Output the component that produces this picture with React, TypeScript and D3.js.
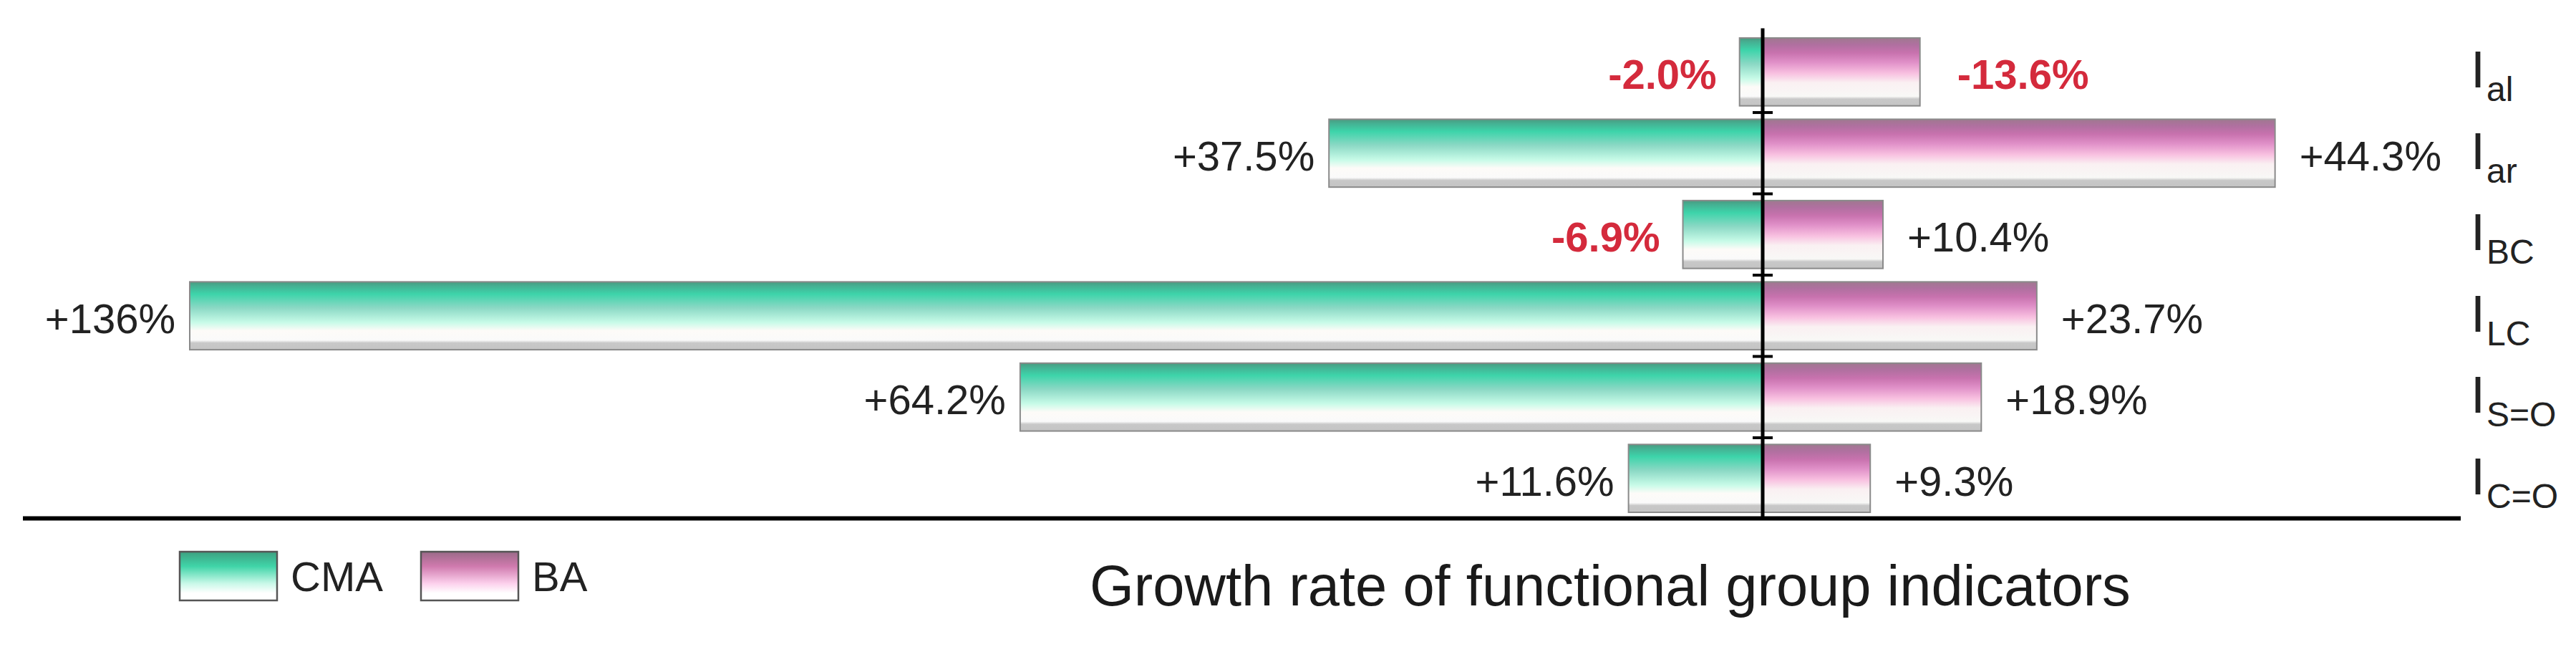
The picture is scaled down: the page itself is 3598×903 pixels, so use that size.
import React from "react";
import * as d3 from "d3";

const categories = ["al", "ar", "BC", "LC", "S=O", "C=O"];
const cmaValues = [-2.0, 37.5, -6.9, 136, 64.2, 11.6];
const baValues = [-13.6, 44.3, 10.4, 23.7, 18.9, 9.3];
const cmaLabels = ["-2.0%", "+37.5%", "-6.9%", "+136%", "+64.2%", "+11.6%"];
const baLabels = ["-13.6%", "+44.3%", "+10.4%", "+23.7%", "+18.9%", "+9.3%"];
const seriesNames = ["CMA", "BA"];
const title = "Growth rate of functional group indicators";

const W = 3598;
const H = 903;
const FONT = "'Liberation Sans', Arial, Helvetica, sans-serif";
const RED = "#d42a3c";

export default function App() {
  const x0 = 2462;
  const mag = d3.scaleLinear().domain([0, 136]).range([0, 2197]);
  const y = d3
    .scaleBand<string>()
    .domain(categories)
    .range([43.6, 724.4])
    .paddingInner(0.165)
    .paddingOuter(0.0825);
  const step = y.step();
  const bw = y.bandwidth();
  const [r0, r1] = y.range();
  const ticks = d3.range(1, categories.length).map((i) => r0 + step * i);

  return (
    <svg
      width={W}
      height={H}
      style={{ position: "absolute", left: 0, top: 0, display: "block", background: "#fff" }}
      fontFamily={FONT}
    >
      <defs>
        <linearGradient id="gCMA" x1="0" y1="0" x2="0" y2="1">
          <stop offset="0" stopColor="#4a9a80" />
          <stop offset="0.06" stopColor="#45b092" />
          <stop offset="0.18" stopColor="#3dd4aa" />
          <stop offset="0.38" stopColor="#8ad8c4" />
          <stop offset="0.6" stopColor="#c8fbe8" />
          <stop offset="0.72" stopColor="#fdfbf8" />
          <stop offset="0.86" stopColor="#fafafa" />
          <stop offset="0.9" stopColor="#c8c8c8" />
          <stop offset="1" stopColor="#c4c4c4" />
        </linearGradient>
        <linearGradient id="gBA" x1="0" y1="0" x2="0" y2="1">
          <stop offset="0" stopColor="#a07890" />
          <stop offset="0.1" stopColor="#b070a0" />
          <stop offset="0.22" stopColor="#c872ae" />
          <stop offset="0.36" stopColor="#e090c8" />
          <stop offset="0.52" stopColor="#f8c0e0" />
          <stop offset="0.66" stopColor="#faf0f2" />
          <stop offset="0.86" stopColor="#f8f8f6" />
          <stop offset="0.9" stopColor="#c8c8c8" />
          <stop offset="1" stopColor="#c4c4c4" />
        </linearGradient>
        <linearGradient id="lCMA" x1="0" y1="0" x2="0" y2="1">
          <stop offset="0" stopColor="#3da080" />
          <stop offset="0.3" stopColor="#40d4a8" />
          <stop offset="0.65" stopColor="#c8f8e8" />
          <stop offset="0.85" stopColor="#ffffff" />
        </linearGradient>
        <linearGradient id="lBA" x1="0" y1="0" x2="0" y2="1">
          <stop offset="0" stopColor="#9a6a88" />
          <stop offset="0.3" stopColor="#d07aae" />
          <stop offset="0.65" stopColor="#fcd0ec" />
          <stop offset="0.85" stopColor="#ffffff" />
        </linearGradient>
      </defs>

      {/* CMA bars (left) */}
      {categories.map((c, i) => {
        const w = mag(Math.abs(cmaValues[i]));
        const yy = y(c)!;
        const neg = cmaValues[i] < 0;
        return (
          <g key={"cma" + c}>
            <rect x={x0 - w} y={yy} width={w} height={bw} fill="url(#gCMA)" stroke="#8a8a8a" strokeWidth={2} />
            <text
              x={x0 - w - (neg ? 32 : 20)}
              y={yy + bw / 2 + 24}
              textAnchor="end"
              fontSize={58}
              fontWeight={neg ? "bold" : "normal"}
              fill={neg ? RED : "#222"}
            >
              {cmaLabels[i]}
            </text>
          </g>
        );
      })}

      {/* BA bars (right) */}
      {categories.map((c, i) => {
        const w = mag(Math.abs(baValues[i]));
        const yy = y(c)!;
        const neg = baValues[i] < 0;
        return (
          <g key={"ba" + c}>
            <rect x={x0} y={yy} width={w} height={bw} fill="url(#gBA)" stroke="#8a8a8a" strokeWidth={2} />
            <text
              x={x0 + w + (neg ? 52 : 34)}
              y={yy + bw / 2 + 24}
              textAnchor="start"
              fontSize={58}
              fontWeight={neg ? "bold" : "normal"}
              fill={neg ? RED : "#222"}
            >
              {baLabels[i]}
            </text>
          </g>
        );
      })}

      {/* vertical axis */}
      <line x1={x0} x2={x0} y1={r0 - 4} y2={r1} stroke="#000" strokeWidth={5} />
      {ticks.map((t, i) => (
        <line key={"t" + i} x1={x0 - 14} x2={x0 + 14} y1={t} y2={t} stroke="#000" strokeWidth={4} />
      ))}
      {/* bottom line */}
      <line x1={32} x2={3437} y1={r1 - 1} y2={r1 - 1} stroke="#000" strokeWidth={6} />

      {/* row labels */}
      {categories.map((c) => (
        <text key={"lab" + c} x={3451} y={y(c)! + bw / 2 + 22} fontSize={72} fill="#222">
          I
          <tspan fontSize={48} dy={19} dx={2}>
            {c}
          </tspan>
        </text>
      ))}

      {/* legend */}
      {seriesNames.map((s, i) => {
        const lx = 251 + i * 337;
        return (
          <g key={"leg" + s}>
            <rect x={lx} y={770} width={136} height={68} fill={i === 0 ? "url(#lCMA)" : "url(#lBA)"} stroke="#555" strokeWidth={2.5} />
            <text x={lx + 155} y={825} fontSize={58} fill="#222">
              {s}
            </text>
          </g>
        );
      })}

      {/* title */}
      <text x={1522} y={845} fontSize={79.5} fill="#1a1a1a">
        {title}
      </text>
    </svg>
  );
}
